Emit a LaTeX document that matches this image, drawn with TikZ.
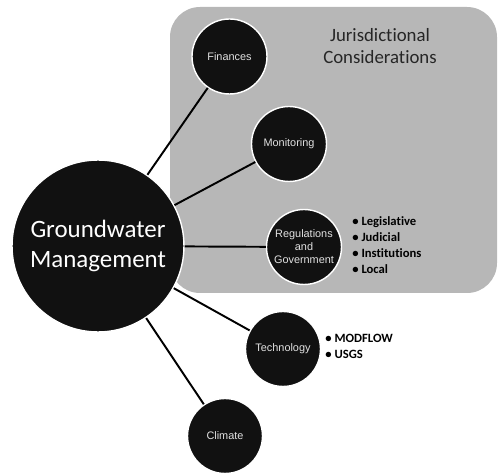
\documentclass[tikz,border=0pt]{standalone}
\usepackage{fontspec}
\setmainfont{Carlito}[Ligatures=NoCommon]
\newfontfamily\labelfont{Liberation Sans}
\definecolor{paneltone}{RGB}{183,183,183}
\definecolor{bubble}{RGB}{17,17,17}
\definecolor{bubbletext}{RGB}{225,225,225}

\begin{document}
\begin{tikzpicture}[x=0.02cm,y=-0.02cm,
    hub/.style={circle,fill=bubble,draw=white,line width=0.8pt,minimum size=3.44cm,inner sep=0pt,
      text=white,align=center,font=\fontsize{14.2}{17}\selectfont},
    topic/.style={circle,fill=bubble,draw=white,line width=0.8pt,minimum size=1.5cm,inner sep=0pt,
      text=bubbletext,align=center,font=\labelfont\fontsize{6.2}{7.4}\selectfont},
    spoke/.style={line width=1.1pt},
    bullets/.style={align=left,anchor=north west,inner sep=0pt,font=\bfseries\fontsize{7.2}{9.2}\selectfont}]
  \useasboundingbox (0,0) rectangle (498,473);

  % Jurisdiction panel
  \draw[fill=paneltone,draw=none,rounded corners=0.6cm] (170,7) rectangle (497,293);
  \node[text=black!85,align=center,anchor=north,inner sep=0pt,font=\fontsize{10.7}{12.5}\selectfont]
    (jur) at (380,28) {Jurisdictional\\Considerations};

  % Central bubble
  \node[hub] (gw) at (98,246) {Groundwater\\Management};

  % Topic bubbles
  \node[topic] (fin) at (229.5,56.5) {Finances};
  \node[topic] (mon) at (289,144) {Monitoring};
  \node[topic] (reg) at (304,247) {Regulations\\and\\Government};
  \node[topic] (tech) at (283,349) {Technology};
  \node[topic] (clim) at (225,436) {Climate};

  % Spokes
  \draw[spoke] (gw) -- (fin);
  \draw[spoke] (gw) -- (mon);
  \draw[spoke] (gw) -- (reg);
  \draw[spoke] (gw) -- (tech);
  \draw[spoke] (gw) -- (clim);

  % Bullet lists
  \node[bullets] (regitems) at (352,216)
    {\textbullet\ Legislative\\\textbullet\ Judicial\\\textbullet\ Institutions\\\textbullet\ Local};
  \node[bullets] (techitems) at (325,334)
    {\textbullet\ MODFLOW\\\textbullet\ USGS};
\end{tikzpicture}
\end{document}
